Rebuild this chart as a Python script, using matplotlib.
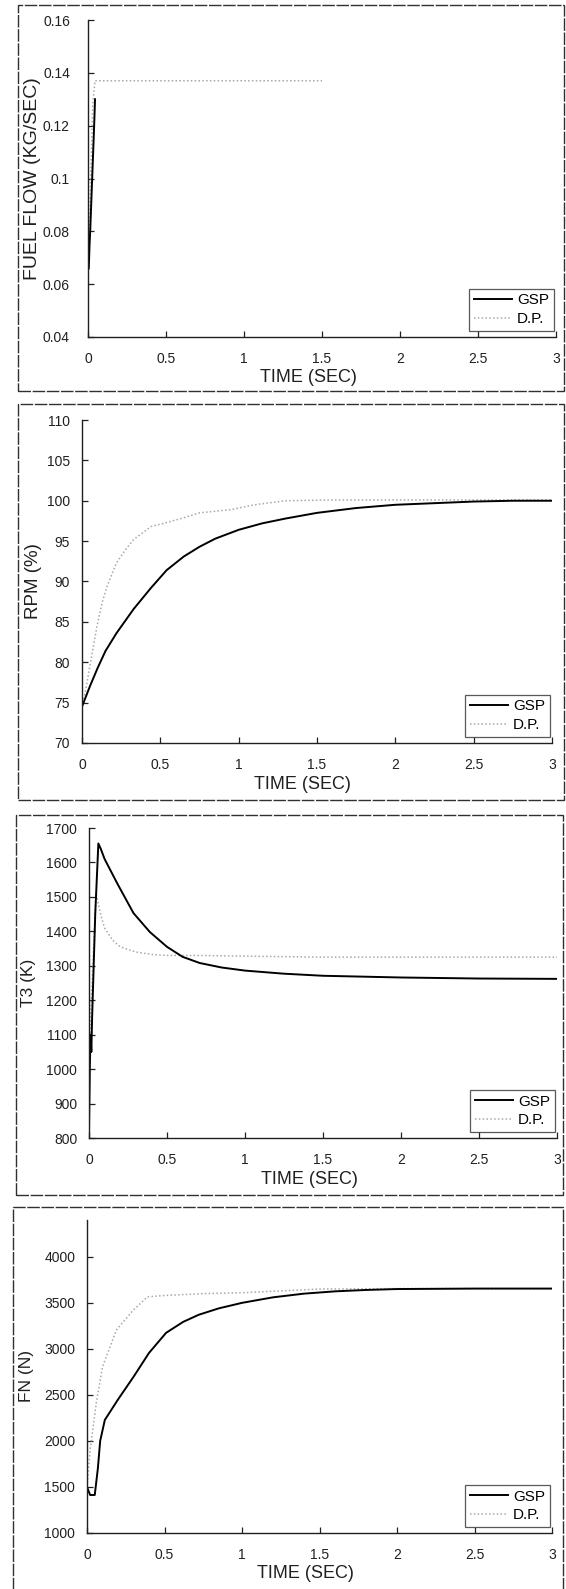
import matplotlib
matplotlib.use("Agg")
import matplotlib.pyplot as plt
from matplotlib.patches import Rectangle

plt.rcParams['font.family'] = ['Liberation Sans', 'DejaVu Sans']

W, H = 566, 1589

# ---- data -------------------------------------------------------------
time_label = "TIME (SEC)"
series_names = ["GSP", "D.P."]

# fuel flow (kg/s)
ff_t_gsp = [0.005, 0.010, 0.014, 0.040, 0.045]
ff_gsp = [0.066, 0.075, 0.080, 0.121, 0.130]
ff_t_dp = [0.0, 0.030, 0.045, 1.5]
ff_dp = [0.062, 0.128, 0.137, 0.137]

# shaft speed (%)
rpm_t_gsp = [0, 0.05, 0.1, 0.15, 0.22, 0.33, 0.44, 0.54, 0.65, 0.75, 0.85,
             1.0, 1.15, 1.3, 1.5, 1.75, 2.0, 2.25, 2.5, 2.75, 3.0]
rpm_gsp = [74.5, 77.0, 79.3, 81.4, 83.6, 86.6, 89.2, 91.4, 93.1, 94.3, 95.3,
           96.4, 97.2, 97.8, 98.5, 99.1, 99.5, 99.7, 99.9, 100.0, 100.0]
rpm_t_dp = [0, 0.02, 0.05, 0.095, 0.13, 0.16, 0.22, 0.28, 0.33, 0.44, 0.54,
            0.65, 0.75, 0.85, 0.95, 1.1, 1.3, 1.6, 2.0, 2.5, 3.0]
rpm_dp = [74.5, 76.2, 79.5, 84.4, 87.5, 89.4, 92.3, 94.0, 95.2, 96.8, 97.3,
          97.9, 98.5, 98.7, 98.9, 99.5, 100.0, 100.1, 100.1, 100.1, 100.1]

# turbine inlet temperature (K)
t3_t_gsp = [0, 0.005, 0.01, 0.015, 0.02, 0.04, 0.06, 0.075, 0.1, 0.18, 0.285,
            0.39, 0.5, 0.6, 0.71, 0.85, 1.0, 1.25, 1.5, 2.0, 2.5, 3.0]
t3_gsp = [820, 1000, 1100, 1050, 1150, 1450, 1655, 1640, 1610, 1540, 1453,
          1398, 1355, 1326, 1308, 1295, 1286, 1277, 1271, 1266, 1263, 1262]
t3_t_dp = [0, 0.01, 0.025, 0.045, 0.06, 0.08, 0.1, 0.15, 0.2, 0.3, 0.4, 0.5,
           0.7, 1.0, 1.5, 2.0, 2.5, 3.0]
t3_dp = [850, 1150, 1300, 1511, 1480, 1440, 1410, 1375, 1355, 1340, 1333,
         1330, 1330, 1328, 1325, 1325, 1325, 1325]

# net thrust (N)
fn_t_gsp = [0, 0.02, 0.05, 0.07, 0.085, 0.115, 0.2, 0.3, 0.4, 0.51, 0.62,
            0.72, 0.85, 1.0, 1.2, 1.4, 1.6, 1.8, 2.0, 2.5, 3.0]
fn_gsp = [1500, 1413, 1413, 1700, 2000, 2228, 2450, 2696, 2956, 3174, 3293,
          3370, 3440, 3500, 3560, 3600, 3625, 3640, 3650, 3655, 3655]
fn_t_dp = [0, 0.02, 0.06, 0.1, 0.19, 0.3, 0.39, 0.5, 0.75, 1.0, 1.25, 1.5,
           2.0, 2.5, 3.0]
fn_dp = [1500, 1900, 2413, 2804, 3206, 3424, 3565, 3580, 3600, 3610, 3630,
         3650, 3655, 3655, 3655]

x_ticks = [0, 0.5, 1, 1.5, 2, 2.5, 3]
x_tick_labels = ["0", "0.5", "1", "1.5", "2", "2.5", "3"]

panels = [
    dict(ylabel="FUEL FLOW (KG/SEC)", ylim=(0.04, 0.16),
         yticks=[0.04, 0.06, 0.08, 0.1, 0.12, 0.14, 0.16],
         yticklabels=["0.04", "0.06", "0.08", "0.1", "0.12", "0.14", "0.16"],
         gsp=(ff_t_gsp, ff_gsp), dp=(ff_t_dp, ff_dp),
         frame=(18, 5, 564, 391), ax=(88, 20, 556, 337), ypad=13,
         ylab_x=33, ylab_size=14),
    dict(ylabel="RPM (%)", ylim=(70, 110),
         yticks=[70, 75, 80, 85, 90, 95, 100, 105, 110],
         yticklabels=None,
         gsp=(rpm_t_gsp, rpm_gsp), dp=(rpm_t_dp, rpm_dp),
         frame=(18, 404, 564, 800), ax=(82, 420, 552, 743), ypad=8.5,
         ylab_x=34, ylab_size=13.5),
    dict(ylabel="T3 (K)", ylim=(800, 1700),
         yticks=list(range(800, 1701, 100)),
         yticklabels=None,
         gsp=(t3_t_gsp, t3_gsp), dp=(t3_t_dp, t3_dp),
         frame=(16, 815, 563, 1195), ax=(89, 828, 557, 1138), ypad=8.5,
         ylab_x=29, ylab_size=12.5),
    dict(ylabel="FN (N)", ylim=(1000, 4400),
         yticks=[1000, 1500, 2000, 2500, 3000, 3500, 4000],
         yticklabels=None,
         gsp=(fn_t_gsp, fn_gsp), dp=(fn_t_dp, fn_dp),
         frame=(13, 1207, 563, 1600), ax=(87, 1220, 552, 1533), ypad=8.5,
         ylab_x=27, ylab_size=12.5),
]

fig = plt.figure(figsize=(W / 100, H / 100), dpi=100)
fig.patch.set_facecolor("white")


def fig_rect(l, t, r, b):
    return [l / W, 1 - b / H, (r - l) / W, (b - t) / H]


for p in panels:
    fl, ft, fr, fb = p["frame"]
    fig.patches.append(Rectangle((fl / W, 1 - fb / H), (fr - fl) / W, (fb - ft) / H,
                                 transform=fig.transFigure, fill=False,
                                 edgecolor="#303030", linewidth=1.0,
                                 linestyle=(0, (9, 1.2))))

    al, at, ar, ab = p["ax"]
    ax = fig.add_axes(fig_rect(al, at, ar, ab))
    ax.set_facecolor("none")
    ax.plot(*p["dp"], color="#a8a8a8", linestyle=(0, (1, 1.5)), linewidth=1.1,
            label=series_names[1])
    ax.plot(*p["gsp"], color="black", linewidth=1.4, label=series_names[0])

    ax.set_xlim(0, 3)
    ax.set_ylim(*p["ylim"])
    ax.set_xticks(x_ticks)
    ax.set_xticklabels(x_tick_labels)
    ax.set_yticks(p["yticks"])
    if p["yticklabels"]:
        ax.set_yticklabels(p["yticklabels"])

    for s in ("top", "right"):
        ax.spines[s].set_visible(False)
    for s in ("left", "bottom"):
        ax.spines[s].set_linewidth(1.0)
        ax.spines[s].set_color("#202020")
    ax.tick_params(axis="both", direction="in", length=4, width=0.9,
                   labelsize=10, colors="#202020")
    ax.tick_params(axis="x", pad=11)
    ax.tick_params(axis="y", pad=p["ypad"])

    handles, labels = ax.get_legend_handles_labels()
    leg = ax.legend(handles[::-1], labels[::-1], loc="lower right",
                    bbox_to_anchor=(0.995, 0.02), fontsize=11,
                    frameon=True, fancybox=False, handlelength=2.5,
                    handletextpad=0.35, borderpad=0.3, labelspacing=0.3,
                    borderaxespad=0.0)
    leg.get_frame().set_edgecolor("#303030")
    leg.get_frame().set_linewidth(0.9)

    fig.text(p["ylab_x"] / W, 1 - ((at + ab) / 2) / H, p["ylabel"],
             rotation=90, ha="center", va="center", fontsize=p["ylab_size"],
             color="#202020")
    fig.text((al + 0.47 * (ar - al)) / W, 1 - (ab + 41) / H, time_label,
             ha="center", va="center", fontsize=13, color="#202020")

fig.savefig("out.png", dpi=100, facecolor="white")
